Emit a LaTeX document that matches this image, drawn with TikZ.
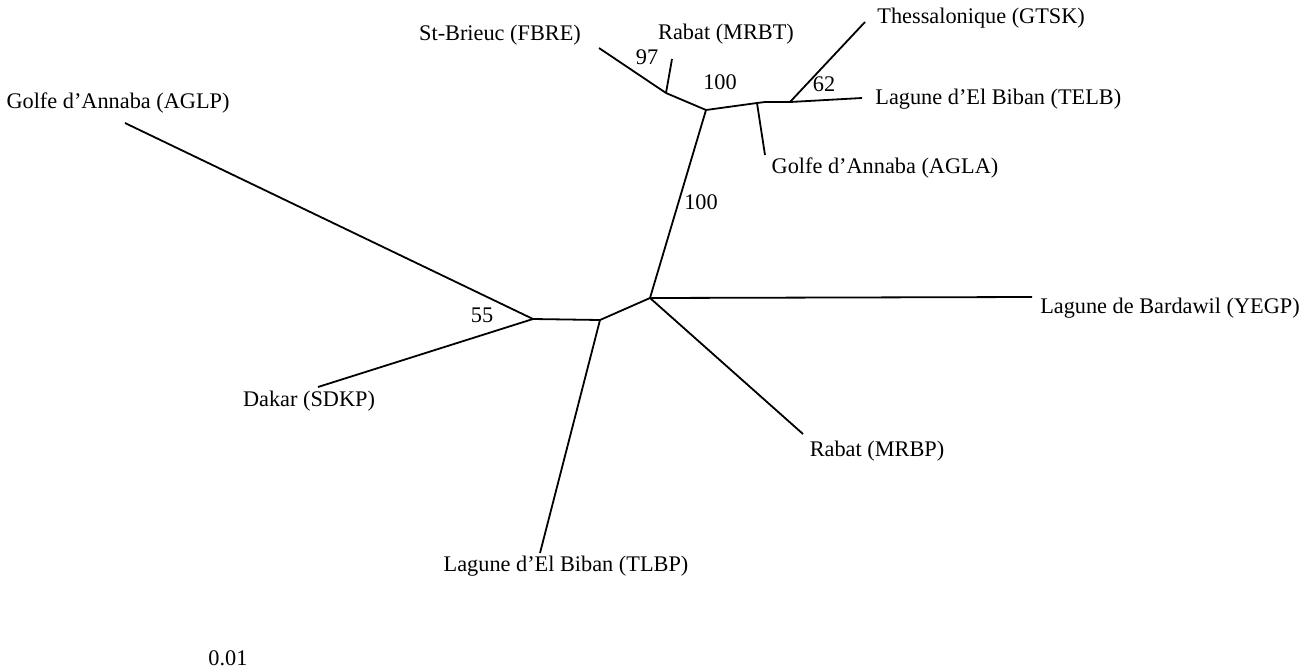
\documentclass[tikz,border=0pt]{standalone}
\usepackage{fontspec}
\setmainfont{Liberation Serif}

\begin{document}
\begin{tikzpicture}[x=0.5pt, y=-0.5pt,
      br/.style={line width=0.9pt},
      lab/.style={font=\fontsize{11.15}{14}\selectfont, inner sep=0pt},
      bs/.style={font=\fontsize{11.15}{14}\selectfont, inner sep=0pt},
    ]
      \useasboundingbox (0,0) rectangle (1314,670);
      % internal nodes
      \coordinate (n55)  at (533,319);
      \coordinate (nb)   at (600,320);
      \coordinate (nc)   at (650,298);
      \coordinate (nd)   at (706,110);
      \coordinate (ne)   at (666,93);
      \coordinate (nf)   at (757,103);
      \coordinate (ng)   at (765,102);
      \coordinate (nh)   at (790,102);
      % leaves
      \coordinate (aglp) at (125,123);
      \coordinate (sdkp) at (318,387);
      \coordinate (tlbp) at (540,553);
      \coordinate (mrbp) at (803,434);
      \coordinate (yegp) at (1032,297);
      \coordinate (agla) at (765,155);
      \coordinate (telb) at (862,98);
      \coordinate (gtsk) at (865,22);
      \coordinate (mrbt) at (672,59);
      \coordinate (fbre) at (599,48);
      % branches
      \draw[br] (aglp)--(n55); \draw[br] (sdkp)--(n55); \draw[br] (n55)--(nb);
      \draw[br] (tlbp)--(nb); \draw[br] (nb)--(nc); \draw[br] (nc)--(mrbp);
      \draw[br] (nc)--(yegp); \draw[br] (nc)--(nd); \draw[br] (nd)--(ne);
      \draw[br] (ne)--(fbre); \draw[br] (ne)--(mrbt); \draw[br] (nd)--(nf);
      \draw[br] (nf)--(agla); \draw[br] (nf)--(ng); \draw[br] (ng)--(nh);
      \draw[br] (nh)--(telb); \draw[br] (nh)--(gtsk);
      % taxa
      \node[lab] (laglp) at (118,103) {Golfe d'Annaba (AGLP)};
      \node[lab] (lfbre) at (500,35)  {St-Brieuc (FBRE)};
      \node[lab] (lmrbt) at (726,34)  {Rabat (MRBT)};
      \node[lab, anchor=west] (lgtsk) at (877,18)  {Thessalonique (GTSK)};
      \node[lab, anchor=west] (ltelb) at (875,99)  {Lagune d'El Biban (TELB)};
      \node[lab] (lagla) at (885,168) {Golfe d'Annaba (AGLA)};
      \node[lab] (lyegp) at (1170,308) {Lagune de Bardawil (YEGP)};
      \node[lab] (lsdkp) at (309,401) {Dakar (SDKP)};
      \node[lab] (lmrbp) at (877,451) {Rabat (MRBP)};
      \node[lab] (ltlbp) at (566,566) {Lagune d'El Biban (TLBP)};
      % bootstrap values
      \node[bs] (b97)  at (647,57)  {97};
      \node[bs] (b100a) at (720,82) {100};
      \node[bs] (b62)  at (824,84)  {62};
      \node[bs] (b100b) at (701,202) {100};
      \node[bs] (b55)  at (482,315) {55};
      \node[bs] (scale) at (228,658) {0.01};
    \end{tikzpicture}
\end{document}
